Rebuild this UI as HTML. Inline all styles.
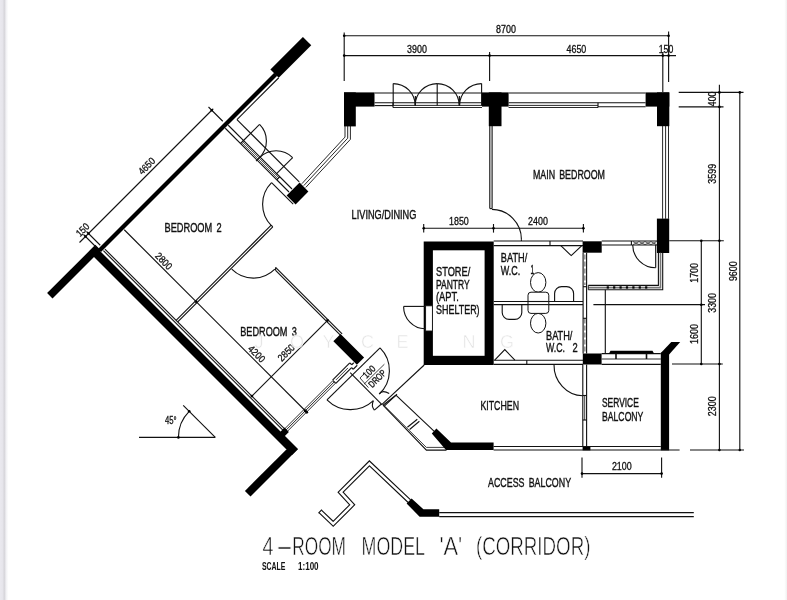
<!DOCTYPE html>
<html lang="en">
<head>
<meta charset="utf-8">
<title>4-ROOM MODEL 'A' (CORRIDOR) floor plan</title>
<style>
html,body{margin:0;padding:0;background:#fff;}
body{width:787px;height:600px;overflow:hidden;}
svg{display:block;will-change:transform;}
text{font-family:"Liberation Sans",sans-serif;fill:#111;}
.t{font-weight:400;word-spacing:2.5px;stroke:#111;stroke-width:.4;}
.d{font-weight:400;stroke:#111;stroke-width:.3;}
.ti{font-weight:400;stroke:#fff;stroke-width:.55;paint-order:fill stroke;}
.sc{font-weight:700;}
.wm{fill:#d4d4d4;fill-opacity:.8;stroke:#fff;stroke-opacity:.8;stroke-width:.9;paint-order:fill stroke;}
</style>
</head>
<body>
<svg width="787" height="600" viewBox="0 0 787 600">
<rect x="0" y="0" width="787" height="600" fill="#fff"/>
<defs><linearGradient id="ls" x1="0" y1="0" x2="1" y2="0"><stop offset="0" stop-color="#eae9ef"/><stop offset="0.30" stop-color="#e6e5eb"/><stop offset="0.50" stop-color="#d8d7dc"/><stop offset="0.58" stop-color="#d9d8dd"/><stop offset="0.70" stop-color="#f0f0f3"/><stop offset="1" stop-color="#ffffff"/></linearGradient><linearGradient id="rs" x1="0" y1="0" x2="1" y2="0"><stop offset="0" stop-color="#ffffff"/><stop offset="1" stop-color="#f0f0f0"/></linearGradient></defs>
<rect x="0" y="0" width="8.4" height="600" fill="url(#ls)"/>
<rect x="784.3" y="0" width="2.7" height="600" fill="url(#rs)"/>
<polygon points="302.9,36.9 311.25,45.25 278.75,77.75 270.4,69.4" fill="#000"/>
<polygon points="274.25,72.75 277.25,75.75 101,252 98,249" fill="#000"/>
<polygon points="95.35,244.85 100.75,250.25 52.5,298.5 47.1,293.1" fill="#000"/>
<line x1="278.75" y1="77.75" x2="236.95" y2="119.55" stroke="#111" stroke-width="1.12"/>
<line x1="236.95" y1="119.55" x2="299.2" y2="181.8" stroke="#111" stroke-width="1.12"/>
<polygon points="93,256 99,250 298,449 292,455" fill="#000"/>
<line x1="103.4" y1="250.6" x2="284.4" y2="431.6" stroke="#111" stroke-width="1.12"/>
<line x1="104.9" y1="249.1" x2="285.9" y2="430.1" stroke="#111" stroke-width="1.12"/>
<polygon points="286.4,449.4 298,449 250.5,496.5 244.9,490.9" fill="#000"/>
<line x1="79.5" y1="242.5" x2="213.25" y2="108.75" stroke="#111" stroke-width="1.12"/>
<line x1="208.5" y1="107" x2="222.75" y2="121.25" stroke="#111" stroke-width="1.12"/>
<line x1="86.5" y1="231.5" x2="100.25" y2="245.25" stroke="#111" stroke-width="1.12"/>
<line x1="83.5" y1="234.5" x2="96" y2="247" stroke="#111" stroke-width="1.12"/>
<circle cx="85.5" cy="236.5" r="1.2" fill="#000"/>
<circle cx="88.5" cy="233.5" r="1.2" fill="#000"/>
<circle cx="211.75" cy="110.25" r="1.2" fill="#000"/>
<text class="d" font-size="10" text-anchor="middle" transform="translate(146.6 166) rotate(-45)" x="0" y="3.5" textLength="19.5" lengthAdjust="spacingAndGlyphs">4650</text>
<text class="d" font-size="10" text-anchor="middle" transform="translate(82.6 229.7) rotate(-45)" x="0" y="3.5" textLength="14.5" lengthAdjust="spacingAndGlyphs">150</text>
<line x1="124.25" y1="229.75" x2="307" y2="412.5" stroke="#111" stroke-width="1.12"/>
<circle cx="196.15" cy="301.65" r="1.4" fill="#000"/>
<circle cx="306.75" cy="412.25" r="1.4" fill="#000"/>
<text class="d" font-size="10" text-anchor="middle" transform="translate(163.8 261) rotate(45)" x="0" y="3.5" textLength="19.5" lengthAdjust="spacingAndGlyphs">2800</text>
<text class="d" font-size="10" text-anchor="middle" transform="translate(256.7 353.8) rotate(45)" x="0" y="3.5" textLength="19.5" lengthAdjust="spacingAndGlyphs">4200</text>
<line x1="251.9" y1="396.1" x2="327.85" y2="320.15" stroke="#111" stroke-width="1.12"/>
<circle cx="251.9" cy="396.1" r="1.4" fill="#000"/>
<circle cx="327.5" cy="320.5" r="1.4" fill="#000"/>
<text class="d" font-size="10" text-anchor="middle" transform="translate(286.2 352.6) rotate(-45)" x="0" y="3.5" textLength="19.5" lengthAdjust="spacingAndGlyphs">2850</text>
<line x1="176.1" y1="320.3" x2="271.2" y2="225.2" stroke="#111" stroke-width="1.12"/>
<line x1="177.7" y1="321.9" x2="272.8" y2="226.8" stroke="#111" stroke-width="1.12"/>
<line x1="271.2" y1="225.2" x2="272.8" y2="226.8" stroke="#111" stroke-width="1.12"/>
<path d="M231.73,269.17 A30.5,30.5 0 0 0 274.87,269.17" fill="none" stroke="#111" stroke-width="1.12"/>
<line x1="275.6" y1="267.4" x2="342.1" y2="333.9" stroke="#111" stroke-width="1.12"/>
<line x1="275.6" y1="270.4" x2="340.6" y2="335.4" stroke="#111" stroke-width="1.12"/>
<line x1="275.6" y1="267.4" x2="275.6" y2="270.4" stroke="#111" stroke-width="1.12"/>
<polygon points="340.55,333.95 364.1,357.5 356.9,364.7 333.35,341.15" fill="#000"/>
<line x1="282.75" y1="430.75" x2="333" y2="380.5" stroke="#111" stroke-width="0.9"/>
<line x1="284.05" y1="432.05" x2="334.3" y2="381.8" stroke="#111" stroke-width="0.9"/>
<line x1="285.35" y1="433.35" x2="335.6" y2="383.1" stroke="#111" stroke-width="0.9"/>
<line x1="333.05" y1="380.55" x2="335.6" y2="383.1" stroke="#111" stroke-width="1.12"/>
<line x1="332.55" y1="380.05" x2="349.8" y2="362.8" stroke="#111" stroke-width="1.12"/>
<line x1="335.85" y1="383.35" x2="351.6" y2="367.6" stroke="#111" stroke-width="1.12"/>
<line x1="335.95" y1="379.95" x2="347.95" y2="367.95" stroke="#111" stroke-width="0.8"/>
<line x1="349.8" y1="362.8" x2="351.75" y2="364.75" stroke="#111" stroke-width="1.12"/>
<line x1="351.6" y1="367.6" x2="353.25" y2="369.25" stroke="#111" stroke-width="1.12"/>
<line x1="351.75" y1="364.75" x2="353.75" y2="362.75" stroke="#111" stroke-width="1.12"/>
<line x1="353.25" y1="369.25" x2="357.25" y2="365.25" stroke="#111" stroke-width="1.12"/>
<polygon points="280.1,432.1 284.4,436.4 288.9,431.9 284.6,427.6" fill="#000"/>
<circle cx="305.25" cy="410.75" r="1.5" fill="#000"/>
<line x1="225.25" y1="128.25" x2="289" y2="192" stroke="#111" stroke-width="1.12"/>
<line x1="228.25" y1="125.25" x2="292" y2="189" stroke="#111" stroke-width="1.12"/>
<line x1="241.5" y1="142.5" x2="277.75" y2="178.75" stroke="#111" stroke-width="0.7"/>
<line x1="242.5" y1="141.5" x2="278.75" y2="177.75" stroke="#111" stroke-width="0.7"/>
<line x1="240.5" y1="143.5" x2="243.5" y2="140.5" stroke="#111" stroke-width="1.12"/>
<line x1="276.75" y1="179.75" x2="279.75" y2="176.75" stroke="#111" stroke-width="1.12"/>
<polygon points="299.6,182.6 308.4,191.6 295.6,204.4 286.6,195.4" fill="#000"/>
<line x1="243" y1="141" x2="259.55" y2="124.45" stroke="#111" stroke-width="1.12"/>
<path d="M259.55,124.45 A23.4,23.4 0 0 1 259.55,157.55" fill="none" stroke="#111" stroke-width="1.12"/>
<line x1="276.09" y1="174.09" x2="292.64" y2="157.55" stroke="#111" stroke-width="1.12"/>
<path d="M292.64,157.55 A23.4,23.4 0 0 0 259.55,157.55" fill="none" stroke="#111" stroke-width="1.12"/>
<line x1="259.55" y1="157.55" x2="256.05" y2="161.05" stroke="#111" stroke-width="1.12"/>
<line x1="293.2" y1="204.2" x2="271.56" y2="182.56" stroke="#111" stroke-width="1.12"/>
<path d="M271.56,182.56 A30.6,30.6 0 0 0 271.56,225.84" fill="none" stroke="#111" stroke-width="1.12"/>
<polyline points="345,126 345,137.07 301.86,183.74" fill="none" stroke="#111" stroke-width="0.9"/>
<polyline points="347.7,126 347.7,138.2 303.8,185.6" fill="none" stroke="#111" stroke-width="0.9"/>
<polyline points="350.4,126 350.4,139.33 305.74,187.46" fill="none" stroke="#111" stroke-width="0.9"/>
<line x1="326.98" y1="399.82" x2="380.03" y2="347.97" stroke="#111" stroke-width="1.12"/>
<path d="M380.03,347.97 A32,32 0 0 1 379.22,394" fill="none" stroke="#111" stroke-width="1.12"/>
<path d="M326.98,399.82 A33.4,33.4 0 0 0 373.38,400.63" fill="none" stroke="#111" stroke-width="1.12"/>
<line x1="350.2" y1="372.6" x2="382.2" y2="404.8" stroke="#111" stroke-width="1.12"/>
<path d="M379.22,394 q3,-4.5 10,-0.5" fill="none" stroke="#111" stroke-width="1.12"/>
<path d="M373.38,400.63 q-2.5,5 1,9.5" fill="none" stroke="#111" stroke-width="1.12"/>
<line x1="374.38" y1="410.13" x2="381.4" y2="404" stroke="#111" stroke-width="1.12"/>
<text class="d" font-size="9.6" text-anchor="middle" transform="translate(369 371.8) rotate(-45)" x="0" y="3.36" textLength="13.6" lengthAdjust="spacingAndGlyphs">100</text>
<text class="d" font-size="9.6" text-anchor="middle" transform="translate(377.2 378.6) rotate(-45)" x="0" y="3.36" textLength="20.5" lengthAdjust="spacingAndGlyphs">DROP</text>
<line x1="364" y1="384.2" x2="384.4" y2="364.2" stroke="#111" stroke-width="0.8"/>
<polyline points="365.2,372.6 360,378 368.4,387.6" fill="none" stroke="#111" stroke-width="0.8"/>
<line x1="382" y1="404.4" x2="424.2" y2="365" stroke="#111" stroke-width="1.12"/>
<line x1="384" y1="406.4" x2="397" y2="394.2" stroke="#111" stroke-width="1.12"/>
<polyline points="383,405.2 426.4,450.1 446.5,450.1" fill="none" stroke="#111" stroke-width="1.12"/>
<polyline points="385.2,406.6 426.4,447.4 445,447.4" fill="none" stroke="#111" stroke-width="0.8"/>
<line x1="395.9" y1="395.2" x2="435.6" y2="432.6" stroke="#111" stroke-width="1.12"/>
<line x1="383" y1="405.2" x2="395.9" y2="395.2" stroke="#111" stroke-width="1.12"/>
<line x1="407.4" y1="427.3" x2="417.3" y2="419.2" stroke="#111" stroke-width="1.12"/>
<line x1="409.6" y1="429.5" x2="419.4" y2="421.2" stroke="#111" stroke-width="1.12"/>
<polygon points="436.4,428.6 451,442.4 493.6,442.4 493.6,450.1 446,450.1 431.8,433.4" fill="#000"/>
<line x1="139" y1="437.4" x2="215.3" y2="437.4" stroke="#111" stroke-width="1.12"/>
<line x1="215.3" y1="437.4" x2="183.2" y2="405.3" stroke="#111" stroke-width="1.12"/>
<path d="M178.4,437.4 A36.9,36.9 0 0 1 189.2,411.3" fill="none" stroke="#111" stroke-width="1.12"/>
<circle cx="178.4" cy="437.4" r="1.3" fill="#000"/>
<circle cx="189.2" cy="411.3" r="1.3" fill="#000"/>
<text class="d" x="165" y="423.6" font-size="10.5" textLength="11.6" lengthAdjust="spacingAndGlyphs">45°</text>
<rect x="344" y="92.4" width="30.5" height="14.2" fill="#000"/>
<rect x="344" y="92.4" width="11.8" height="34" fill="#000"/>
<rect x="482" y="92.4" width="26.6" height="14.2" fill="#000"/>
<rect x="488.8" y="92.4" width="12.7" height="33.8" fill="#000"/>
<rect x="645.6" y="92.4" width="23.7" height="14.2" fill="#000"/>
<rect x="657" y="92.4" width="12.3" height="33.8" fill="#000"/>
<rect x="656.9" y="218.6" width="12.3" height="34.4" fill="#000"/>
<line x1="374.5" y1="93" x2="482" y2="93" stroke="#111" stroke-width="1.12"/>
<line x1="374.5" y1="102.7" x2="482" y2="102.7" stroke="#111" stroke-width="1.12"/>
<line x1="374.5" y1="105.6" x2="393" y2="105.6" stroke="#111" stroke-width="1.12"/>
<line x1="393" y1="105.4" x2="482" y2="105.4" stroke="#111" stroke-width="0.9"/>
<line x1="393" y1="107.5" x2="482" y2="107.5" stroke="#111" stroke-width="0.9"/>
<line x1="393" y1="102.7" x2="393" y2="107.5" stroke="#111" stroke-width="1.12"/>
<line x1="393.2" y1="83.6" x2="393.2" y2="105.4" stroke="#111" stroke-width="1.12"/>
<line x1="437.2" y1="83.6" x2="437.2" y2="105.4" stroke="#111" stroke-width="1.12"/>
<line x1="481.6" y1="83.6" x2="481.6" y2="105.4" stroke="#111" stroke-width="1.12"/>
<path d="M393.2,83.6 A22,22 0 0 1 415.2,105.4" fill="none" stroke="#111" stroke-width="1.12"/>
<path d="M437.2,83.6 A22,22 0 0 0 415.2,105.4" fill="none" stroke="#111" stroke-width="1.12"/>
<path d="M437.2,83.6 A22,22 0 0 1 459.2,105.4" fill="none" stroke="#111" stroke-width="1.12"/>
<path d="M481.6,83.6 A22,22 0 0 0 459.6,105.4" fill="none" stroke="#111" stroke-width="1.12"/>
<line x1="415.4" y1="96" x2="415.4" y2="105.4" stroke="#111" stroke-width="1.12"/>
<line x1="459.4" y1="96" x2="459.4" y2="105.4" stroke="#111" stroke-width="1.12"/>
<line x1="508.6" y1="93" x2="645.6" y2="93" stroke="#111" stroke-width="1.12"/>
<line x1="508.6" y1="102.7" x2="645.6" y2="102.7" stroke="#111" stroke-width="1.12"/>
<line x1="508.6" y1="105.4" x2="598" y2="105.4" stroke="#111" stroke-width="0.9"/>
<line x1="508.6" y1="107.5" x2="598" y2="107.5" stroke="#111" stroke-width="0.9"/>
<line x1="598" y1="102.7" x2="598" y2="107.5" stroke="#111" stroke-width="1.12"/>
<line x1="598" y1="106.8" x2="645.6" y2="106.8" stroke="#111" stroke-width="1.12"/>
<line x1="662.6" y1="126" x2="662.6" y2="218.8" stroke="#111" stroke-width="0.9"/>
<line x1="665.6" y1="126" x2="665.6" y2="218.8" stroke="#111" stroke-width="0.9"/>
<line x1="668.5" y1="126" x2="668.5" y2="218.8" stroke="#111" stroke-width="0.9"/>
<line x1="489.8" y1="126" x2="489.8" y2="208.6" stroke="#111" stroke-width="1.12"/>
<line x1="492.1" y1="126" x2="492.1" y2="208.6" stroke="#111" stroke-width="1.12"/>
<line x1="489.8" y1="208.6" x2="492.1" y2="208.6" stroke="#111" stroke-width="1.12"/>
<path d="M492,209.4 A29.8,29.8 0 0 1 521.4,239.2" fill="none" stroke="#111" stroke-width="1.12"/>
<line x1="521.4" y1="239.2" x2="521.4" y2="241" stroke="#111" stroke-width="1.12"/>
<line x1="344.2" y1="35.8" x2="668.6" y2="35.8" stroke="#111" stroke-width="1.12"/>
<line x1="344.2" y1="55.6" x2="676" y2="55.6" stroke="#111" stroke-width="1.12"/>
<line x1="344.2" y1="32.5" x2="344.2" y2="81" stroke="#111" stroke-width="1.12"/>
<line x1="489.6" y1="52" x2="489.6" y2="81" stroke="#111" stroke-width="1.12"/>
<line x1="668.6" y1="31.5" x2="668.6" y2="82" stroke="#111" stroke-width="1.12"/>
<line x1="662.8" y1="52" x2="662.8" y2="92" stroke="#111" stroke-width="1.12"/>
<circle cx="344.2" cy="35.8" r="1.3" fill="#000"/>
<circle cx="668.6" cy="35.8" r="1.3" fill="#000"/>
<circle cx="344.2" cy="55.6" r="1.3" fill="#000"/>
<circle cx="489.6" cy="55.6" r="1.3" fill="#000"/>
<circle cx="662.8" cy="55.6" r="1.3" fill="#000"/>
<circle cx="668.6" cy="55.6" r="1.3" fill="#000"/>
<text class="d" font-size="10" text-anchor="middle" transform="translate(506 29.2) rotate(0)" x="0" y="3.5" textLength="19.8" lengthAdjust="spacingAndGlyphs">8700</text>
<text class="d" font-size="10" text-anchor="middle" transform="translate(417 49) rotate(0)" x="0" y="3.5" textLength="19.8" lengthAdjust="spacingAndGlyphs">3900</text>
<text class="d" font-size="10" text-anchor="middle" transform="translate(576.4 49) rotate(0)" x="0" y="3.5" textLength="19.8" lengthAdjust="spacingAndGlyphs">4650</text>
<text class="d" font-size="10" text-anchor="middle" transform="translate(666 49) rotate(0)" x="0" y="3.5" textLength="14.5" lengthAdjust="spacingAndGlyphs">150</text>
<line x1="719.4" y1="84.8" x2="719.4" y2="450" stroke="#111" stroke-width="1.12"/>
<line x1="739.8" y1="92.4" x2="739.8" y2="450" stroke="#111" stroke-width="1.12"/>
<line x1="701.3" y1="240.7" x2="701.3" y2="364" stroke="#111" stroke-width="1.12"/>
<line x1="678.7" y1="92.4" x2="743.5" y2="92.4" stroke="#111" stroke-width="1.12"/>
<line x1="678.7" y1="106.9" x2="723.5" y2="106.9" stroke="#111" stroke-width="1.12"/>
<line x1="669.2" y1="240.7" x2="723.8" y2="240.7" stroke="#111" stroke-width="1.12"/>
<line x1="593.4" y1="304.7" x2="705" y2="304.7" stroke="#111" stroke-width="1.2"/>
<line x1="672" y1="364" x2="722.8" y2="364" stroke="#111" stroke-width="1.12"/>
<circle cx="719.4" cy="92.4" r="1.3" fill="#000"/>
<circle cx="739.8" cy="92.4" r="1.3" fill="#000"/>
<circle cx="719.4" cy="106.9" r="1.3" fill="#000"/>
<circle cx="701.3" cy="240.7" r="1.3" fill="#000"/>
<circle cx="719.4" cy="240.7" r="1.3" fill="#000"/>
<circle cx="701.3" cy="304.7" r="1.3" fill="#000"/>
<circle cx="701.3" cy="364" r="1.3" fill="#000"/>
<circle cx="719.4" cy="364" r="1.3" fill="#000"/>
<circle cx="719.4" cy="450" r="1.3" fill="#000"/>
<circle cx="739.8" cy="450" r="1.3" fill="#000"/>
<text class="d" font-size="10" text-anchor="middle" transform="translate(712.9 98.9) rotate(-90)" x="0" y="3.5" textLength="14.5" lengthAdjust="spacingAndGlyphs">400</text>
<text class="d" font-size="10" text-anchor="middle" transform="translate(712.9 173.8) rotate(-90)" x="0" y="3.5" textLength="19.8" lengthAdjust="spacingAndGlyphs">3599</text>
<text class="d" font-size="10" text-anchor="middle" transform="translate(733.2 271.2) rotate(-90)" x="0" y="3.5" textLength="19.8" lengthAdjust="spacingAndGlyphs">9600</text>
<text class="d" font-size="10" text-anchor="middle" transform="translate(694.4 272.9) rotate(-90)" x="0" y="3.5" textLength="19.8" lengthAdjust="spacingAndGlyphs">1700</text>
<text class="d" font-size="10" text-anchor="middle" transform="translate(712.7 302.9) rotate(-90)" x="0" y="3.5" textLength="19.8" lengthAdjust="spacingAndGlyphs">3300</text>
<text class="d" font-size="10" text-anchor="middle" transform="translate(694.8 334) rotate(-90)" x="0" y="3.5" textLength="19.8" lengthAdjust="spacingAndGlyphs">1600</text>
<text class="d" font-size="10" text-anchor="middle" transform="translate(712.7 406.3) rotate(-90)" x="0" y="3.5" textLength="19.8" lengthAdjust="spacingAndGlyphs">2300</text>
<line x1="423.7" y1="228.3" x2="583.4" y2="228.3" stroke="#111" stroke-width="1.12"/>
<line x1="423.7" y1="224" x2="423.7" y2="232.6" stroke="#111" stroke-width="1.12"/>
<circle cx="423.7" cy="228.3" r="1.3" fill="#000"/>
<line x1="493.5" y1="224" x2="493.5" y2="232.6" stroke="#111" stroke-width="1.12"/>
<circle cx="493.5" cy="228.3" r="1.3" fill="#000"/>
<line x1="583.4" y1="224" x2="583.4" y2="232.6" stroke="#111" stroke-width="1.12"/>
<circle cx="583.4" cy="228.3" r="1.3" fill="#000"/>
<text class="d" font-size="10" text-anchor="middle" transform="translate(458.9 221.4) rotate(0)" x="0" y="3.5" textLength="19.8" lengthAdjust="spacingAndGlyphs">1850</text>
<text class="d" font-size="10" text-anchor="middle" transform="translate(538 221.4) rotate(0)" x="0" y="3.5" textLength="19.8" lengthAdjust="spacingAndGlyphs">2400</text>
<rect x="423.7" y="241.5" width="70" height="123.5" fill="#000"/>
<rect x="432.9" y="250.3" width="51.7" height="105.5" fill="#fff"/>
<rect x="425.6" y="305.8" width="6.8" height="25.2" fill="#fff" stroke="#111" stroke-width="0.9"/>
<line x1="425" y1="306.4" x2="403.6" y2="306.4" stroke="#111" stroke-width="1.12"/>
<path d="M403.6,306.4 A21.6,22.4 0 0 0 425,328.8" fill="none" stroke="#111" stroke-width="1.12"/>
<line x1="493.7" y1="241" x2="583" y2="241" stroke="#111" stroke-width="1.12"/>
<line x1="493.7" y1="245.6" x2="583" y2="245.6" stroke="#111" stroke-width="1.12"/>
<line x1="550" y1="241" x2="550" y2="245.6" stroke="#111" stroke-width="1.12"/>
<rect x="582.6" y="241.3" width="19.1" height="11.4" fill="#000"/>
<line x1="601.7" y1="241" x2="657" y2="241" stroke="#111" stroke-width="1.12"/>
<line x1="601.7" y1="245" x2="657" y2="245" stroke="#111" stroke-width="1.12"/>
<polyline points="631.4,241 631.4,245" fill="none" stroke="#111" stroke-width="1.12"/>
<polyline points="633,244.6 639,241.6 645,244.6 651,241.6 656.5,244.6" fill="none" stroke="#111" stroke-width="0.7"/>
<polyline points="633,241.6 639,244.6 645,241.6 651,244.6 656.5,241.6" fill="none" stroke="#111" stroke-width="0.7"/>
<line x1="655.7" y1="245" x2="655.7" y2="267.8" stroke="#111" stroke-width="1.12"/>
<path d="M632.7,245 A23,23 0 0 0 655.7,267.8" fill="none" stroke="#111" stroke-width="1.12"/>
<polyline points="560.8,245.6 571.2,255.6 581.8,245.6" fill="none" stroke="#111" stroke-width="1.12"/>
<line x1="493.7" y1="301.5" x2="583" y2="301.5" stroke="#111" stroke-width="1.12"/>
<line x1="493.7" y1="304.6" x2="583" y2="304.6" stroke="#111" stroke-width="1.12"/>
<line x1="583.1" y1="252.7" x2="583.1" y2="353.6" stroke="#111" stroke-width="1.12"/>
<line x1="586.6" y1="252.7" x2="586.6" y2="353.6" stroke="#111" stroke-width="1.12"/>
<line x1="584.9" y1="254.5" x2="584.9" y2="285" stroke="#444" stroke-width="0.9" stroke-dasharray="5 2"/>
<line x1="584.9" y1="318.5" x2="584.9" y2="352.5" stroke="#444" stroke-width="0.9" stroke-dasharray="5 2"/>
<line x1="583.1" y1="286.7" x2="586.6" y2="286.7" stroke="#111" stroke-width="1.12"/>
<line x1="583.1" y1="318.3" x2="586.6" y2="318.3" stroke="#111" stroke-width="1.12"/>
<ellipse cx="538.2" cy="282.4" rx="7.7" ry="9.8" fill="#fff" stroke="#111" stroke-width="1"/>
<ellipse cx="538.2" cy="323.2" rx="7.7" ry="9.8" fill="#fff" stroke="#111" stroke-width="1"/>
<rect x="528.0" y="292.2" width="20.8" height="21.2" rx="3" ry="3" fill="#fff" stroke="#111" stroke-width="1"/>
<line x1="528" y1="301.5" x2="548.8" y2="301.5" stroke="#111" stroke-width="1.12"/>
<line x1="528" y1="304.6" x2="548.8" y2="304.6" stroke="#111" stroke-width="1.12"/>
<path d="M554.6,301.5 V293.6 A7,7 0 0 1 561.6,286.6 H566.6 A7,7 0 0 1 573.6,293.6 V301.5" fill="none" stroke="#111" stroke-width="1.12"/>
<path d="M502.2,304.6 V312.4 A7,7 0 0 0 509.2,319.4 H514.8 A7,7 0 0 0 521.8,312.4 V304.6" fill="none" stroke="#111" stroke-width="1.12"/>
<line x1="493.7" y1="360.2" x2="583" y2="360.2" stroke="#111" stroke-width="1.12"/>
<line x1="493.7" y1="364.4" x2="583" y2="364.4" stroke="#111" stroke-width="1.12"/>
<line x1="526.8" y1="360.2" x2="526.8" y2="364.4" stroke="#111" stroke-width="1.12"/>
<polyline points="494.7,360.2 504.8,349.6 514.9,360.2" fill="none" stroke="#111" stroke-width="1.12"/>
<rect x="582.8" y="353.5" width="18.8" height="11" fill="#000"/>
<path d="M554.0,364.4 A29.5,31 0 0 0 582.8,395.8" fill="none" stroke="#111" stroke-width="1.12"/>
<line x1="582.8" y1="364.5" x2="582.8" y2="446.6" stroke="#111" stroke-width="1.12"/>
<line x1="586.6" y1="364.5" x2="586.6" y2="446.6" stroke="#111" stroke-width="1.12"/>
<line x1="584.7" y1="395.5" x2="584.7" y2="420" stroke="#111" stroke-width="0.8"/>
<line x1="582.8" y1="395.5" x2="586.6" y2="395.5" stroke="#111" stroke-width="1.12"/>
<line x1="582.8" y1="420" x2="586.6" y2="420" stroke="#111" stroke-width="1.12"/>
<rect x="582.6" y="446.4" width="7.8" height="4" fill="#000"/>
<polyline points="588.3,285.4 658.4,285.4 658.4,252.8" fill="none" stroke="#111" stroke-width="1.1"/>
<polyline points="588.3,287.6 660.5,287.6 660.5,252.8" fill="none" stroke="#777" stroke-width="1.6"/>
<polyline points="588.3,289.8 662.7,289.8 662.7,252.8" fill="none" stroke="#111" stroke-width="1.1"/>
<line x1="588.3" y1="285.4" x2="588.3" y2="289.8" stroke="#111" stroke-width="0.9"/>
<rect x="606.7" y="286.3" width="2.2" height="2.3" fill="#000"/>
<rect x="613.1" y="286.3" width="2.2" height="2.3" fill="#000"/>
<rect x="619.5" y="286.3" width="2.2" height="2.3" fill="#000"/>
<rect x="625.9" y="286.3" width="2.2" height="2.3" fill="#000"/>
<rect x="632.3" y="286.3" width="2.2" height="2.3" fill="#000"/>
<rect x="638.7" y="286.3" width="2.2" height="2.3" fill="#000"/>
<rect x="645.1" y="286.3" width="2.2" height="2.3" fill="#000"/>
<line x1="605.3" y1="289.8" x2="605.3" y2="353.5" stroke="#111" stroke-width="1.12"/>
<line x1="601.6" y1="353.6" x2="660.8" y2="353.6" stroke="#111" stroke-width="1.12"/>
<line x1="601.6" y1="359" x2="660.8" y2="359" stroke="#333" stroke-width="1.2"/>
<line x1="601.6" y1="364.4" x2="660.8" y2="364.4" stroke="#111" stroke-width="1.12"/>
<polygon points="610.5,350.8 652.5,350.8 654,353.4 609,353.4" fill="#000"/>
<line x1="616" y1="353.6" x2="616" y2="359" stroke="#111" stroke-width="1.6"/>
<line x1="646.5" y1="353.6" x2="646.5" y2="359" stroke="#111" stroke-width="1.6"/>
<rect x="660.8" y="352.6" width="8.3" height="97.8" fill="#000"/>
<polygon points="660.8,353 671.3,342 680.2,342 669.1,354.4" fill="#000"/>
<line x1="493.6" y1="446.5" x2="660.8" y2="446.5" stroke="#111" stroke-width="1.12"/>
<line x1="493.6" y1="450" x2="679.6" y2="450" stroke="#111" stroke-width="1.2"/>
<line x1="690" y1="450" x2="744" y2="450" stroke="#111" stroke-width="1.2"/>
<line x1="582" y1="473.6" x2="661.6" y2="473.6" stroke="#111" stroke-width="1.12"/>
<line x1="582" y1="457.5" x2="582" y2="477.8" stroke="#111" stroke-width="1.12"/>
<line x1="661.6" y1="457.5" x2="661.6" y2="477.8" stroke="#111" stroke-width="1.12"/>
<circle cx="582" cy="473.6" r="1.3" fill="#000"/>
<circle cx="661.6" cy="473.6" r="1.3" fill="#000"/>
<text class="d" font-size="10" text-anchor="middle" transform="translate(621.8 466.8) rotate(0)" x="0" y="3.5" textLength="19.8" lengthAdjust="spacingAndGlyphs">2100</text>
<polyline points="320.2,511.4 333.2,523.8 352.2,504.8 340.6,492.2 369.4,463.4 409.4,501.2" fill="none" stroke="#111" stroke-width="4.7" stroke-linejoin="miter" stroke-linecap="butt"/>
<polyline points="320.2,511.4 333.2,523.8 352.2,504.8 340.6,492.2 369.4,463.4 409.4,501.2" fill="none" stroke="#fff" stroke-width="2.5" stroke-linejoin="miter" stroke-linecap="butt"/>
<line x1="318.5" y1="513.1" x2="321.9" y2="509.7" stroke="#111" stroke-width="1.1"/>
<polygon points="411.6,498.4 423.4,509.2 439.2,509.2 439.2,516.8 419.6,516.8 406.6,503.4" fill="#000"/>
<line x1="439.2" y1="512.6" x2="693.8" y2="512.6" stroke="#111" stroke-width="1.12"/>
<line x1="439.2" y1="516.6" x2="693.8" y2="516.6" stroke="#111" stroke-width="1.12"/>
<text class="t" x="164.5" y="231.8" font-size="13" textLength="57.2" lengthAdjust="spacingAndGlyphs">BEDROOM 2</text>
<text class="t" x="240.2" y="336.2" font-size="13" textLength="56.7" lengthAdjust="spacingAndGlyphs">BEDROOM 3</text>
<text class="t" x="351.6" y="218.8" font-size="13" textLength="64.8" lengthAdjust="spacingAndGlyphs">LIVING/DINING</text>
<text class="t" x="532.9" y="178.6" font-size="13" textLength="72.1" lengthAdjust="spacingAndGlyphs">MAIN BEDROOM</text>
<text class="t" x="480.4" y="410.2" font-size="13" textLength="38.6" lengthAdjust="spacingAndGlyphs">KITCHEN</text>
<text class="t" x="488" y="486.7" font-size="13" textLength="83.1" lengthAdjust="spacingAndGlyphs">ACCESS BALCONY</text>
<text class="t" x="602" y="407" font-size="13" textLength="36.8" lengthAdjust="spacingAndGlyphs">SERVICE</text>
<text class="t" x="602" y="421" font-size="13" textLength="41.4" lengthAdjust="spacingAndGlyphs">BALCONY</text>
<text class="t" x="500.8" y="262.3" font-size="13" textLength="26.4" lengthAdjust="spacingAndGlyphs">BATH/</text>
<text class="t" x="500.8" y="274.6" font-size="13" textLength="19.4" lengthAdjust="spacingAndGlyphs">W.C.</text>
<text class="t" x="530.6" y="273.6" font-size="13" textLength="3.6" lengthAdjust="spacingAndGlyphs">1</text>
<text class="t" x="546" y="340" font-size="13" textLength="26.4" lengthAdjust="spacingAndGlyphs">BATH/</text>
<text class="t" x="546" y="352.3" font-size="13" textLength="19" lengthAdjust="spacingAndGlyphs">W.C.</text>
<text class="t" x="572.4" y="352.3" font-size="13" textLength="5.2" lengthAdjust="spacingAndGlyphs">2</text>
<text class="t" x="436" y="276.4" font-size="13" textLength="34.2" lengthAdjust="spacingAndGlyphs">STORE/</text>
<text class="t" x="436" y="288.7" font-size="13" textLength="33.6" lengthAdjust="spacingAndGlyphs">PANTRY</text>
<text class="t" x="436" y="301.3" font-size="13" textLength="22.8" lengthAdjust="spacingAndGlyphs">(APT.</text>
<text class="t" x="436" y="314" font-size="13" textLength="43.6" lengthAdjust="spacingAndGlyphs">SHELTER)</text>
<text class="ti" x="262.6" y="554.8" font-size="25.6" textLength="11" lengthAdjust="spacingAndGlyphs">4</text>
<text class="ti" x="275.4" y="554.8" font-size="25.6" textLength="18" lengthAdjust="spacingAndGlyphs">-</text>
<text class="ti" x="292.3" y="554.8" font-size="25.6" textLength="53.7" lengthAdjust="spacingAndGlyphs">ROOM</text>
<text class="ti" x="361.6" y="554.8" font-size="25.6" textLength="63.4" lengthAdjust="spacingAndGlyphs">MODEL</text>
<text class="ti" x="439.4" y="554.8" font-size="25.6" textLength="22.9" lengthAdjust="spacingAndGlyphs">'A'</text>
<text class="ti" x="476" y="554.8" font-size="25.6" textLength="114.4" lengthAdjust="spacingAndGlyphs">(CORRIDOR)</text>
<text class="sc" x="261.9" y="569.9" font-size="10.8" textLength="23.6" lengthAdjust="spacingAndGlyphs">SCALE</text>
<text class="sc" x="298" y="569.9" font-size="10.8" textLength="20.6" lengthAdjust="spacingAndGlyphs">1:100</text>
<text class="wm" x="259" y="347.5" font-size="18" text-anchor="middle">J</text>
<text class="wm" x="297" y="347.5" font-size="18" text-anchor="middle">O</text>
<text class="wm" x="328.5" y="347.5" font-size="18" text-anchor="middle">Y</text>
<text class="wm" x="367.5" y="347.5" font-size="18" text-anchor="middle">C</text>
<text class="wm" x="402.5" y="347.5" font-size="18" text-anchor="middle">E</text>
<text class="wm" x="469" y="347.5" font-size="18" text-anchor="middle">N</text>
<text class="wm" x="507" y="347.5" font-size="18" text-anchor="middle">G</text>
</svg>
</body>
</html>
